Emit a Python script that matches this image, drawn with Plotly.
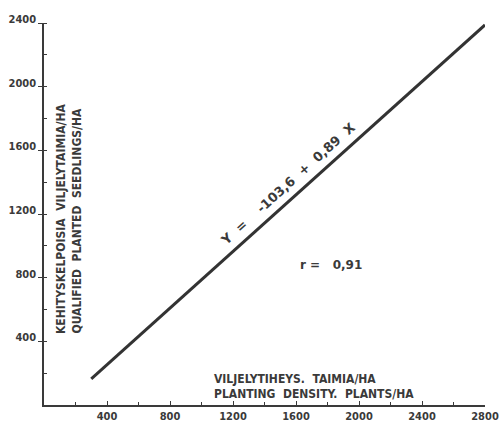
import plotly.graph_objects as go

# ---- data ----
line_x = [300, 2800]
line_y = [164, 2388]
x_ticks = [400, 800, 1200, 1600, 2000, 2400, 2800]
y_ticks = [400, 800, 1200, 1600, 2000, 2400]
equation_text = "Y\u00a0 =\u00a0\u00a0\u00a0 -103,6\u00a0 +\u00a0 0,89\u00a0 X"
r_text = "r =\u00a0\u00a0 0,91"
x_title = ["VILJELYTIHEYS.\u00a0 TAIMIA/HA", "PLANTING\u00a0 DENSITY.\u00a0 PLANTS/HA"]
y_title = ["KEHITYSKELPOISIA\u00a0 VILJELYTAIMIA/HA", "QUALIFIED\u00a0 PLANTED\u00a0 SEEDLINGS/HA"]

W, H = 501, 422
L, R, T, B = 44, 16, 23, 17
X_MAX, Y_MAX = 2800, 2400
pw, ph = W - L - R, H - T - B

def dx(px):
    return (px - L) / pw * X_MAX

def dy(py):
    return (H - B - py) / ph * Y_MAX

INK = "#3a3a3a"
FAM = "DejaVu Sans Condensed"
font = dict(family=FAM, size=11, color=INK, weight="bold")
title_font = dict(font, size=12)
wide_font = dict(family="DejaVu Sans", size=12, color=INK, weight="bold")

fig = go.Figure()
fig.add_trace(go.Scatter(x=line_x, y=line_y, mode="lines",
                         line=dict(color="#333333", width=3), showlegend=False,
                         hoverinfo="skip"))

annos = []
annos.append(dict(x=dx(287), y=dy(184), xref="x", yref="y", text=equation_text,
                  textangle=-42, showarrow=False, font=dict(wide_font, size=13)))
annos.append(dict(x=dx(331), y=dy(265), xref="x", yref="y", text=r_text,
                  showarrow=False, font=wide_font))
for t, py in zip(x_title, [379, 394]):
    annos.append(dict(x=dx(212), y=dy(py), xref="x", yref="y", text=t,
                      xanchor="left", yanchor="middle", showarrow=False, font=title_font))
for t, px in zip(y_title, [61, 76]):
    annos.append(dict(x=dx(px), y=dy(336), xref="x", yref="y", text=t, textangle=-90,
                      xanchor="center", yanchor="bottom", showarrow=False, font=title_font))

axis_common = dict(showgrid=False, zeroline=False, showline=True, linecolor=INK,
                   linewidth=1.5, tickcolor=INK, tickwidth=1.2, tickfont=font,
                   automargin=False, fixedrange=True)

fig.update_layout(
    width=W, height=H, margin=dict(l=L, r=R, t=T, b=B),
    paper_bgcolor="white", plot_bgcolor="white",
    annotations=annos,
    xaxis=dict(axis_common, range=[0, X_MAX], tickvals=x_ticks, ticks="inside",
               ticklen=4, ticklabelstandoff=0,
               minor=dict(dtick=200, tick0=0, ticks="inside", ticklen=3,
                          tickcolor=INK, tickwidth=1)),
    yaxis=dict(axis_common, range=[0, Y_MAX], tickvals=y_ticks, ticks="outside",
               ticklen=4, ticklabelstandoff=0, ticklabelshift=-4,
               minor=dict(dtick=200, tick0=0, ticks="inside", ticklen=3,
                          tickcolor=INK, tickwidth=1)),
)

fig.write_html("out.html", config={"displayModeBar": False},
               post_script="document.body.style.margin='0';document.body.style.overflow='hidden';")
